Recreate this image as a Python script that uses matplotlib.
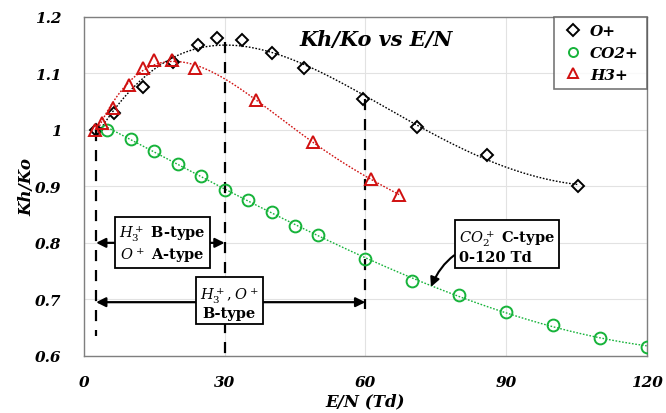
import numpy as np
import matplotlib
matplotlib.use("Agg")
import matplotlib.pyplot as plt

plt.rcParams['font.family'] = ['DejaVu Serif']
plt.rcParams['mathtext.fontset'] = 'dejavuserif'

# E/N (Td) and Kh/Ko for each ion
o_x = [2.5, 6.5, 12.7, 19.0, 24.4, 28.3, 33.7, 40.2, 46.9, 59.5, 71.1, 86.0, 105.4]
o_y = [1.000, 1.030, 1.075, 1.120, 1.150, 1.163, 1.159, 1.136, 1.110, 1.054, 1.005, 0.955, 0.901]

co2_x = [5, 10, 15, 20, 25, 30, 35, 40, 45, 50, 60, 70, 80, 90, 100, 110, 120]
co2_y = [1.000, 0.984, 0.963, 0.940, 0.919, 0.894, 0.875, 0.854, 0.829, 0.814,
         0.772, 0.733, 0.707, 0.677, 0.655, 0.632, 0.616]

h3_x = [2.4, 3.8, 6.2, 9.7, 12.5, 15.0, 18.7, 23.7, 36.6, 48.9, 61.2, 67.2]
h3_y = [0.999, 1.012, 1.039, 1.080, 1.109, 1.124, 1.123, 1.109, 1.053, 0.978, 0.913, 0.885]

xticks = [0, 30, 60, 90, 120]
yticks = [0.6, 0.7, 0.8, 0.9, 1.0, 1.1, 1.2]
ytick_labels = ['0.6', '0.7', '0.8', '0.9', '1', '1.1', '1.2']

GREEN = '#16b33a'
RED = '#d01010'

fig = plt.figure(figsize=(6.66, 4.14), dpi=100)
ax = fig.add_axes([0.126, 0.138, 0.845, 0.819])


def trend(x, y, deg, color):
    p = np.polyfit(x, y, deg)
    xs = np.linspace(min(x), max(x), 200)
    ax.plot(xs, np.polyval(p, xs), ls=(0, (1.2, 1.2)), color=color, lw=1.0, zorder=2)


trend(o_x, o_y, 4, 'black')
trend(co2_x, co2_y, 3, GREEN)
trend(h3_x, h3_y, 4, RED)

ax.plot(o_x, o_y, ls='none', marker='D', ms=5.8, mfc='none', mec='black', mew=1.4,
        label='O+', zorder=3)
ax.plot(co2_x, co2_y, ls='none', marker='o', ms=8.5, mfc='none', mec=GREEN, mew=1.4,
        label='CO2+', zorder=3)
ax.plot(h3_x, h3_y, ls='none', marker='^', ms=9, mfc='none', mec=RED, mew=1.4,
        label='H3+', zorder=3)

# region boundaries
dash = dict(color='black', lw=1.6, ls=(0, (5, 4)), zorder=2)
ax.plot([2.6, 2.6], [1.0, 0.636], **dash)
ax.plot([30, 30], [1.155, 0.6], **dash)
ax.plot([60, 60], [1.054, 0.683], **dash)

arrow = dict(arrowstyle='<|-|>', color='black', lw=1.6, mutation_scale=14,
             shrinkA=0, shrinkB=0)
ax.annotate('', xy=(2.6, 0.8), xytext=(30, 0.8), arrowprops=arrow)
ax.annotate('', xy=(2.6, 0.695), xytext=(60, 0.695), arrowprops=arrow)

box = dict(boxstyle='square,pad=0.3', fc='white', ec='black', lw=1.3)
ax.text(16.8, 0.8, '$H_3^+$ B-type\n$O^+$ A-type', ha='center', va='center',
        fontsize=10.5, fontweight='bold', bbox=box, linespacing=1.1, zorder=5)
ax.text(31.0, 0.695, '$H_3^+, O^+$\nB-type', ha='center', va='center',
        fontsize=10.5, fontweight='bold', bbox=box, linespacing=1.1, zorder=5)
ax.annotate('$CO_2^+$ C-type\n0-120 Td', xy=(74, 0.722), xytext=(80, 0.795),
            ha='left', va='center', fontsize=10.5, fontweight='bold', bbox=box,
            linespacing=1.1, zorder=5,
            arrowprops=dict(arrowstyle='-|>', color='black', lw=1.5,
                            connectionstyle='arc3,rad=0.4', mutation_scale=14,
                            shrinkA=0, shrinkB=0))

ax.text(0.52, 0.935, 'Kh/Ko vs E/N', transform=ax.transAxes, ha='center', va='center',
        fontsize=15, fontweight='bold', fontstyle='italic')

ax.set_xlim(0, 120)
ax.set_ylim(0.6, 1.2)
ax.set_xticks(xticks)
ax.set_yticks(yticks)
ax.set_yticklabels(ytick_labels)
ax.grid(True, color='#e2e2e2', lw=0.8, zorder=0)
ax.set_axisbelow(True)
ax.tick_params(axis='x', length=0, pad=14)
ax.tick_params(axis='y', length=0, pad=16)
for lab in ax.get_xticklabels() + ax.get_yticklabels():
    lab.set_fontweight('bold')
    lab.set_fontstyle('italic')
    lab.set_fontsize(11)
for s in ax.spines.values():
    s.set_color('#7f7f7f')
    s.set_linewidth(1.0)

ax.set_xlabel('E/N (Td)', fontsize=12, fontweight='bold', fontstyle='italic', labelpad=2)
ax.set_ylabel('Kh/Ko', fontsize=12, fontweight='bold', fontstyle='italic', labelpad=0)

leg = ax.legend(loc='upper right', borderaxespad=0, fancybox=False, handletextpad=0.3,
                handlelength=1.6, prop=dict(size=11, weight='bold', style='italic'),
                labelspacing=0.5, borderpad=0.5)
leg.get_frame().set_edgecolor('#555555')
leg.get_frame().set_linewidth(1.2)
for h in leg.legend_handles:
    h.set_markersize(6.5)

fig.savefig('out.png', dpi=100)
